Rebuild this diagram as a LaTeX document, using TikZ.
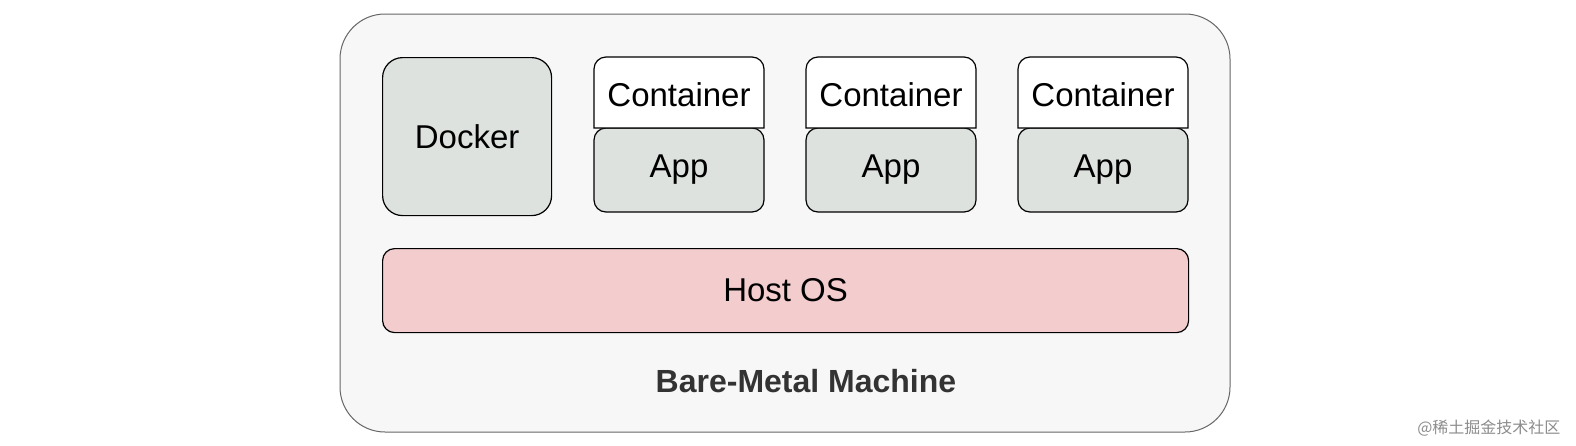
\documentclass[tikz,border=0pt]{standalone}
\usepackage{fontspec}
\setmainfont{Liberation Sans}
\newfontfamily\cjk{Noto Sans CJK SC}
\begin{document}
\begin{tikzpicture}[x=1pt,y=-1pt,
  box/.style={draw=black,line width=1.2pt,rounded corners=12pt},
  lbl/.style={font=\fontsize{33}{36}\selectfont}]
\definecolor{gr}{HTML}{DDE2DF}
\definecolor{pk}{HTML}{F3CCCE}
\useasboundingbox (0,0) rectangle (1576,445);
\draw[draw=black!60,fill=black!3,line width=1pt,rounded corners=45pt] (340,14) rectangle (1230,432);
\node[box,fill=gr,rounded corners=20pt,minimum width=169pt,minimum height=158pt,anchor=north west,lbl] (docker) at (382,57) {Docker};
\foreach \i/\x in {1/594,2/806,3/1018}{
  \begin{scope}
  \draw[box,fill=gr] (\x,128) rectangle ++(170,84);
  \draw[box,fill=white,rounded corners=0pt] (\x,128) [rounded corners=12pt] -- (\x,57) -- (\x+170,57) [rounded corners=0pt] -- (\x+170,128) -- cycle;
  \end{scope}
  \node[lbl] (c\i) at (\x+85,95) {Container};
  \node[lbl] (a\i) at (\x+85,170) {App};
}
\node[box,fill=pk,minimum width=806pt,minimum height=84pt,anchor=north west,lbl] (host) at (382,248) {Host OS};
\node[font=\fontsize{32}{36}\selectfont\bfseries,text=black!80] (bm) at (806,381) {Bare-Metal Machine};
\node[font=\cjk\fontsize{16}{18}\selectfont,text=black!45,anchor=east] (wm) at (1564,428) {@稀土掘金技术社区};
\end{tikzpicture}
\end{document}
